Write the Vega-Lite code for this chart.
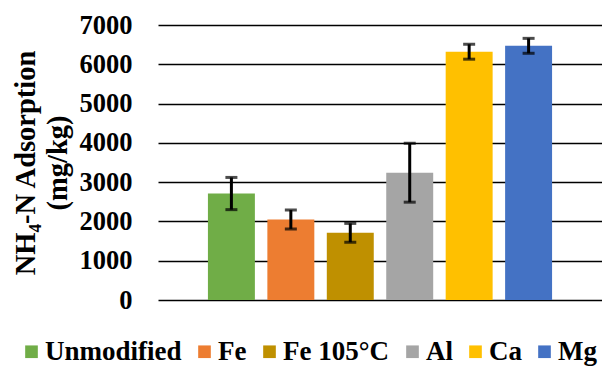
{
  "$schema": "https://vega.github.io/schema/vega-lite/v6.json",
  "width": 444,
  "height": 275,
  "autosize": "none",
  "padding": {"left": 158, "top": 25, "right": 0, "bottom": 66},
  "background": "white",
  "data": {
    "values": [
      {"material": "Unmodified", "value": 2710, "lo": 2300, "hi": 3120},
      {"material": "Fe", "value": 2050, "lo": 1810, "hi": 2290},
      {"material": "Fe 105°C", "value": 1710, "lo": 1470, "hi": 1950},
      {"material": "Al", "value": 3240, "lo": 2490, "hi": 3990},
      {"material": "Ca", "value": 6320, "lo": 6130, "hi": 6510},
      {"material": "Mg", "value": 6470, "lo": 6280, "hi": 6660}
    ]
  },
  "config": {
    "view": {"stroke": null},
    "font": "Liberation Serif",
    "axisY": {
      "format": "d",
      "labelOverlap": false,
      "domain": false,
      "ticks": false,
      "grid": true,
      "gridColor": "#000000",
      "gridWidth": 1.5,
      "labelFont": "Liberation Serif",
      "labelFontWeight": "bold",
      "labelFontSize": 26.5,
      "labelColor": "#000000",
      "labelPadding": 26,
      "titleFont": "Liberation Serif",
      "titleFontWeight": "bold",
      "titleFontSize": 28.5,
      "titleColor": "#000000",
      "titleLineHeight": 32,
      "titlePadding": 7
    }
  },
  "encoding": {
    "x": {
      "field": "material",
      "type": "nominal",
      "sort": null,
      "scale": {"paddingInner": 0.21, "paddingOuter": 0.84},
      "axis": null
    }
  },
  "layer": [
    {
      "mark": {"type": "bar"},
      "encoding": {
        "y": {
          "field": "value",
          "type": "quantitative",
          "scale": {"domain": [0, 7000], "nice": false},
          "axis": {
            "values": [0, 1000, 2000, 3000, 4000, 5000, 6000, 7000],
            "title": ["NH₄-N Adsorption", "(mg/kg)"]
          }
        },
        "color": {
          "field": "material",
          "type": "nominal",
          "sort": null,
          "scale": {
            "domain": ["Unmodified", "Fe", "Fe 105°C", "Al", "Ca", "Mg"],
            "range": ["#70AD47", "#ED7D31", "#BF9000", "#A5A5A5", "#FFC000", "#4472C4"]
          },
          "legend": {
            "title": null,
            "orient": "none",
            "legendX": -140,
            "legendY": 313,
            "direction": "horizontal",
            "columns": 6,
            "symbolType": "square",
            "symbolSize": 160,
            "symbolStrokeWidth": 0,
            "labelFont": "Liberation Serif",
            "labelFontWeight": "bold",
            "labelFontSize": 27,
            "labelColor": "#000000",
            "labelOffset": 0,
            "columnPadding": 9,
            "labelLimit": 300
          }
        }
      }
    },
    {
      "mark": {"type": "rule", "color": "#000000", "strokeWidth": 3},
      "encoding": {
        "y": {"field": "lo", "type": "quantitative", "axis": {"values": [0, 1000, 2000, 3000, 4000, 5000, 6000, 7000], "title": ["NH₄-N Adsorption", "(mg/kg)"]}},
        "y2": {"field": "hi"}
      }
    },
    {
      "mark": {"type": "tick", "color": "#000000", "thickness": 3, "size": 12, "orient": "horizontal"},
      "encoding": {
        "y": {"field": "lo", "type": "quantitative", "axis": {"values": [0, 1000, 2000, 3000, 4000, 5000, 6000, 7000], "title": ["NH₄-N Adsorption", "(mg/kg)"]}}
      }
    },
    {
      "mark": {"type": "tick", "color": "#000000", "thickness": 3, "size": 12, "orient": "horizontal"},
      "encoding": {
        "y": {"field": "hi", "type": "quantitative", "axis": {"values": [0, 1000, 2000, 3000, 4000, 5000, 6000, 7000], "title": ["NH₄-N Adsorption", "(mg/kg)"]}}
      }
    }
  ]
}
